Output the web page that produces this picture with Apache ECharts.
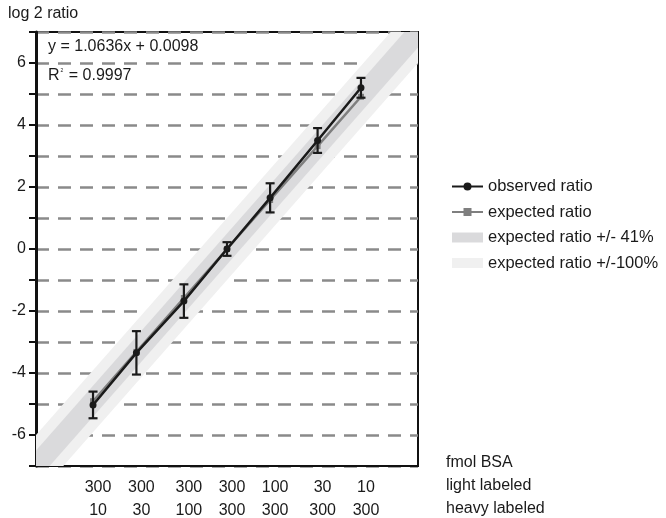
<!DOCTYPE html>
<html>
<head>
<meta charset="utf-8">
<script src="https://cdn.jsdelivr.net/npm/echarts@6/dist/echarts.min.js"></script>
<style>html,body{margin:0;padding:0;background:#fff;}#chart{width:666px;height:518px;}</style>
</head>
<body>
<div id="chart"></div>
<script>
// log2 of expected ratio (light / heavy)
const xExpected = [-4.91, -3.32, -1.58, 0, 1.58, 3.32, 4.91];
const expectedRatio = [-4.91, -3.32, -1.58, 0, 1.58, 3.32, 4.91];
const observedRatio = [-5.03, -3.35, -1.68, 0.0, 1.65, 3.5, 5.2];
const observedError = [0.43, 0.7, 0.54, 0.22, 0.47, 0.4, 0.32];
const lightAmounts = ['300', '300', '300', '300', '100', '30', '10'];
const heavyAmounts = ['10', '30', '100', '300', '300', '300', '300'];
const bandHalfWidths = [0.5, 1]; // log2(1.41), log2(2)
const bandNames = ['expected ratio +/- 41%', 'expected ratio +/-100%'];
const bandColors = ['#dadadc', '#f0f0f0'];
const yTicks = [-7, 7, 1];
const equationText = 'y = 1.0636x + 0.0098';
const r2Text = '0.9997';
const rowTitles = ['fmol BSA', 'light labeled', 'heavy labeled'];

const FONT = '"Liberation Sans", Arial, sans-serif';
const chart = echarts.init(document.getElementById('chart'), null, {renderer: 'canvas'});

function bandSeries(idx) {
  return {
    name: bandNames[idx],
    type: 'custom',
    clip: true,
    z: 1 + (1 - idx),
    itemStyle: {color: bandColors[idx]},
    data: [[bandHalfWidths[idx]]],
    renderItem: function (params, api) {
      const hw = api.value(0);
      const lo = -9, hi = 9;
      const pts = [
        api.coord([lo, lo + hw]), api.coord([hi, hi + hw]),
        api.coord([hi, hi - hw]), api.coord([lo, lo - hw])
      ];
      return {
        type: 'polygon',
        shape: {points: pts},
        style: {fill: bandColors[idx], stroke: null}
      };
    }
  };
}

const option = {
  animation: false,
  backgroundColor: '#fff',
  textStyle: {fontFamily: FONT},
  grid: {left: 36, right: 248, top: 32, bottom: 52, outerBoundsMode: 'none', containLabel: false,
         show: true, borderColor: '#111', borderWidth: 2, backgroundColor: 'transparent'},
  legend: {
    orient: 'vertical', left: 446, top: 173,
    itemWidth: 31, itemHeight: 10, itemGap: 8.5,
    textStyle: {fontFamily: FONT, fontSize: 16.5, color: '#1a1a1a'},
    data: [
      {name: 'observed ratio'},
      {name: 'expected ratio'},
      {name: bandNames[0], icon: 'rect', itemStyle: {color: bandColors[0]}},
      {name: bandNames[1], icon: 'rect', itemStyle: {color: bandColors[1]}}
    ]
  },
  xAxis: {
    type: 'value', min: -7, max: 7,
    axisLine: {onZero: false, lineStyle: {color: '#111', width: 2}},
    axisTick: {show: false},
    splitLine: {show: false},
    axisLabel: {
      customValues: xExpected,
      margin: 10,
      fontFamily: FONT, fontSize: 16, color: '#1a1a1a', lineHeight: 23,
      padding: [0, 0, 0, 10],
      formatter: function (v) {
        let i = 0, best = 1e9;
        xExpected.forEach((x, k) => { if (Math.abs(x - v) < best) { best = Math.abs(x - v); i = k; } });
        return lightAmounts[i] + '\n' + heavyAmounts[i];
      }
    }
  },
  yAxis: {
    type: 'value', min: yTicks[0], max: yTicks[1], interval: yTicks[2],
    axisLine: {onZero: false, lineStyle: {color: '#111', width: 3}},
    axisTick: {length: 7, lineStyle: {color: '#111', width: 2}},
    splitLine: {show: true, lineStyle: {color: '#8a8a8a', width: 2.5, type: [13, 9]}},
    axisLabel: {
      fontFamily: FONT, fontSize: 16, color: '#1a1a1a', margin: 10,
      formatter: function (v) { return (v % 2 === 0 && Math.abs(v) < 7) ? String(v) : ''; }
    }
  },
  series: [
    bandSeries(1),
    bandSeries(0),
    {
      name: 'expected ratio', type: 'line', z: 3,
      data: xExpected.map((x, i) => [x, expectedRatio[i]]),
      symbol: 'rect', symbolSize: 6,
      lineStyle: {color: '#7f7f7f', width: 2.5},
      itemStyle: {color: '#7f7f7f'}
    },
    {
      name: 'observed ratio', type: 'line', z: 4,
      data: xExpected.map((x, i) => [x, observedRatio[i]]),
      symbol: 'circle', symbolSize: 7,
      lineStyle: {color: '#1a1a1a', width: 2.5},
      itemStyle: {color: '#1a1a1a'}
    },
    {
      name: 'error', type: 'custom', z: 5,
      data: xExpected.map((x, i) => [x, observedRatio[i], observedError[i]]),
      renderItem: function (params, api) {
        const x = api.value(0), y = api.value(1), e = api.value(2);
        const t = api.coord([x, y + e]);
        const b = api.coord([x, y - e]);
        const w = 4.5;
        const st = {stroke: '#1a1a1a', lineWidth: 2.2};
        return {
          type: 'group',
          children: [
            {type: 'line', shape: {x1: t[0], y1: t[1], x2: b[0], y2: b[1]}, style: st},
            {type: 'line', shape: {x1: t[0] - w, y1: t[1], x2: t[0] + w, y2: t[1]}, style: st},
            {type: 'line', shape: {x1: b[0] - w, y1: b[1], x2: b[0] + w, y2: b[1]}, style: st}
          ]
        };
      }
    }
  ],
  graphic: [
    {type: 'text', left: 8, top: 6, style: {text: 'log 2 ratio', font: '16px ' + FONT, fill: '#1a1a1a'}},
    {type: 'text', left: 48, top: 39, z: 10, style: {text: equationText, font: '16px ' + FONT, fill: '#1a1a1a'}},
    {type: 'text', left: 48, top: 68, z: 10, style: {
      text: 'R{sup|2} = ' + r2Text, font: '16px ' + FONT, fill: '#1a1a1a',
      rich: {sup: {fontSize: 5, verticalAlign: 'top', padding: [0, 1, 9, 1], fill: '#1a1a1a'}}
    }},
    {type: 'text', left: 446, top: 455, style: {text: rowTitles[0], font: '16px ' + FONT, fill: '#1a1a1a'}},
    {type: 'text', left: 446, top: 478, style: {text: rowTitles[1], font: '16px ' + FONT, fill: '#1a1a1a'}},
    {type: 'text', left: 446, top: 501, style: {text: rowTitles[2], font: '16px ' + FONT, fill: '#1a1a1a'}}
  ]
};
chart.setOption(option);
</script>
</body>
</html>
